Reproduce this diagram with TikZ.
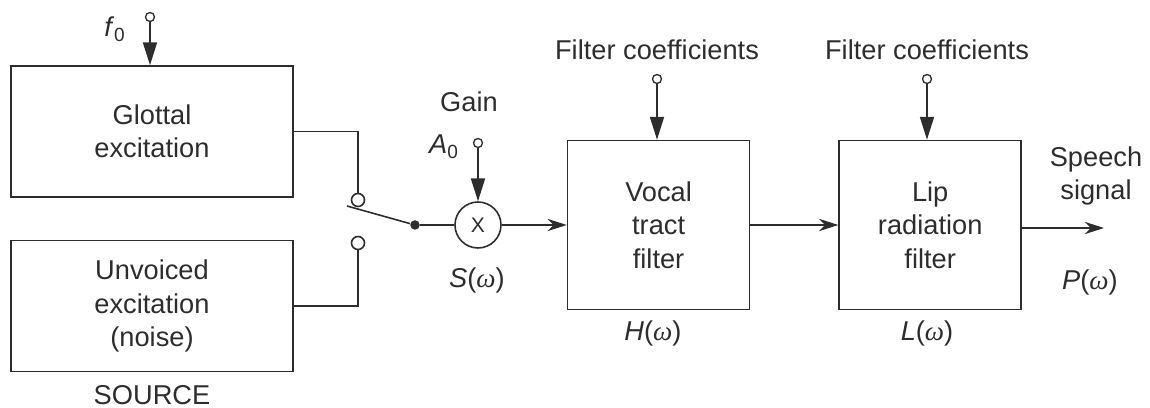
\documentclass[tikz,border=0pt]{standalone}
\usepackage{fontspec}
\setmainfont{Liberation Sans}
\newfontfamily\greekfont{Liberation Serif}
\usepackage{tikz}
\usetikzlibrary{arrows.meta, positioning, calc}
\definecolor{inkgray}{RGB}{45,45,45}
\newcommand{\om}{{\greekfont\itshape ω}}

\begin{document}
\begin{tikzpicture}[
        x=0.02cm, y=-0.02cm,
        every node/.style={text=inkgray},
        lbl/.style={inner sep=0pt, align=center, font=\fontsize{15.5}{19}\selectfont},
        block/.style={rectangle, draw=inkgray, line width=0.95pt, inner sep=0pt, align=center, font=\fontsize{15.5}{19}\selectfont},
        term/.style={circle, draw=inkgray, line width=0.75pt, fill=white, inner sep=0pt, minimum size=0.18cm},
        contact/.style={circle, draw=inkgray, line width=0.9pt, fill=white, inner sep=0pt, minimum size=0.26cm},
        junction/.style={circle, fill=inkgray, inner sep=0pt, minimum size=0.19cm},
        wire/.style={draw=inkgray, line width=0.9pt},
        ctrl/.style={-{Triangle[length=13pt, width=8pt]}, draw=inkgray, fill=inkgray, line width=0.9pt},
        sig/.style={-{Stealth[length=11pt, width=7pt, inset=3.5pt]}, draw=inkgray, line width=0.9pt}
    ]
        \useasboundingbox (0,0) rectangle (1150,408);

        % source
        \node[block, minimum width=5.64cm, minimum height=2.62cm] (glottal) at (152,131.5) {Glottal\\excitation};
        \node[block, minimum width=5.64cm, minimum height=2.62cm, below=0.84cm of glottal] (unvoiced) {Unvoiced\\excitation\\(noise)};
        \node[lbl] (source) at (152,395) {SOURCE};

        \node[term] (f0in) at (150,17) {};
        \node[lbl] (f0) at (115,29) {\textit{f}\textsubscript{0}};
        \draw[ctrl] (f0in) -- (f0in |- glottal.north);

        % switch
        \node[contact] (sw1) at (358,200) {};
        \node[contact] (sw2) at (358,243) {};
        \node[junction] (pivot) at (415,225) {};
        \coordinate (blade) at (347,206);
        \draw[wire] (glottal.east) -| (sw1.north);
        \draw[wire] (unvoiced.east) -| (sw2.south);
        \draw[wire] (blade) -- (pivot);

        % gain
        \node[circle, draw=inkgray, line width=0.9pt, minimum size=0.92cm, inner sep=0pt, font=\fontsize{12}{12}\selectfont] (mult) at (478,225) {X};
        \node[term] (a0in) at (478,143) {};
        \node[lbl] (a0) at (444,147) {\textit{A}\textsubscript{0}};
        \node[lbl] (gain) at (469,102) {Gain};
        \node[lbl] (sw) at (477,280) {\textit{S}(\om)};
        \draw[wire] (pivot) -- (mult);
        \draw[ctrl] (a0in) -- (mult);

        % filters
        \node[block, minimum width=3.64cm, minimum height=3.38cm, right=1.3cm of mult] (vocal) {Vocal\\tract\\filter};
        \node[block, minimum width=3.64cm, minimum height=3.38cm, right=1.76cm of vocal] (lip) {Lip\\radiation\\filter};
        \node[lbl] (hw) at (653,333) {\textit{H}(\om)};
        \node[lbl] (lw) at (927,333) {\textit{L}(\om)};

        \node[term] (vcin) at (657,79) {};
        \node[term] (lcin) at (927,79) {};
        \node[lbl] (vcoef) at (657,50) {Filter coefficients};
        \node[lbl] (lcoef) at (927,50) {Filter coefficients};
        \draw[ctrl] (vcin) -- (vcin |- vocal.north);
        \draw[ctrl] (lcin) -- (lcin |- lip.north);

        % output
        \coordinate (out) at (1104,228);
        \node[lbl] (speech) at (1096,176) {Speech\\signal};
        \node[lbl] (pw) at (1090,282) {\textit{P}(\om)};

        \draw[sig] (mult) -- (vocal);
        \draw[sig] (vocal) -- (lip);
        \draw[sig] (lip.east |- out) -- (out);
    \end{tikzpicture}
\end{document}
